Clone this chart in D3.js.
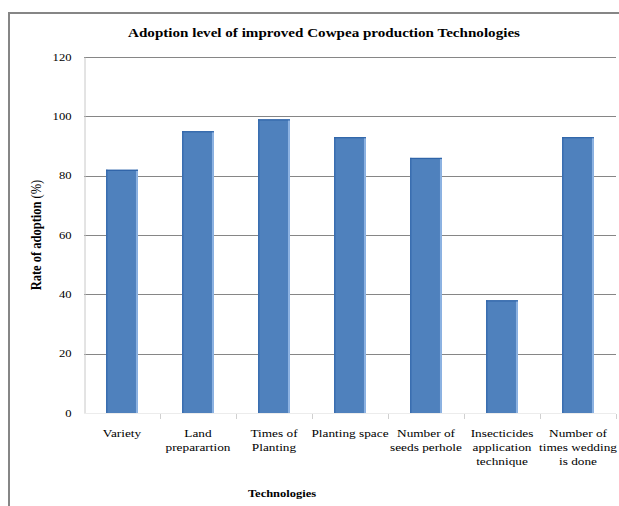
<!DOCTYPE html>
<html><head><meta charset="utf-8">
<script src="https://cdn.jsdelivr.net/npm/d3@7"></script>
<style>
html,body{margin:0;padding:0;background:#fff;}
svg{display:block;}
</style></head>
<body>
<svg id="c" width="619" height="506"></svg>
<script>
const title = "Adoption level of improved Cowpea production Technologies";
const categories = ["Variety","Land preparartion","Times of Planting","Planting space","Number of seeds perhole","Insecticides application technique","Number of times wedding is done"];
const categoryLines = [["Variety"],["Land","preparartion"],["Times of","Planting"],["Planting space"],["Number of","seeds perhole"],["Insecticides","application","technique"],["Number of","times wedding","is done"]];
const values = [82, 95, 99, 93, 86, 38, 93];
const yTicks = [0, 20, 40, 60, 80, 100, 120];
const xTitle = "Technologies";
const yTitleBold = "Rate of adoption";
const yTitleNormal = " (%)";

const FONT = "'Liberation Serif', 'DejaVu Serif', serif";
const SX = 1.33; // horizontal stretch of the reference's text
const svg = d3.select("#c").attr("font-family", FONT);

// outer chart border
svg.append("rect").attr("x",9).attr("y",13).attr("width",640).attr("height",520)
  .attr("fill","none").attr("stroke","#868686").attr("stroke-width",2);

const x = d3.scaleBand().domain(categories).range([84,616]).paddingInner(0.58).paddingOuter(0.29);
const y = d3.scaleLinear().domain([0,120]).range([413,57]);

// gridlines
svg.append("g").selectAll("line").data(yTicks.filter(d=>d>0)).join("line")
  .attr("x1",84).attr("x2",616).attr("y1",d=>Math.round(y(d))+0.5).attr("y2",d=>Math.round(y(d))+0.5)
  .attr("stroke","#868686").attr("stroke-width",1);

// y axis
const yAxis = d3.axisLeft(y).tickValues(yTicks).tickSize(0).tickPadding(13);
const gy = svg.append("g").attr("transform","translate(84.5,0)").call(yAxis);
gy.attr("font-family", FONT).attr("font-size", 9.5);
gy.select(".domain").attr("stroke","#c8c8c8");
gy.selectAll(".tick text").attr("fill","#000").attr("x",0)
  .attr("transform",`translate(-13,0) scale(${SX},1)`);

// x baseline + category boundary ticks
svg.append("line").attr("x1",84).attr("x2",616).attr("y1",413.5).attr("y2",413.5).attr("stroke","#ececec");
const step = x.step();
const bounds = d3.range(1, categories.length+1).map(i => x.range()[0] + i*step);
svg.append("g").selectAll("line").data(bounds).join("line")
  .attr("x1",d=>Math.round(d)+0.5).attr("x2",d=>Math.round(d)+0.5).attr("y1",414).attr("y2",419)
  .attr("stroke","#d0d0d0");

// bars
const bars = svg.append("g").selectAll("g").data(values).join("g");
bars.append("rect")
  .attr("x",(d,i)=>x(categories[i])).attr("y",d=>y(d))
  .attr("width",x.bandwidth()).attr("height",d=>y(0)-y(d))
  .attr("fill","#4f81bd");
bars.append("rect")
  .attr("x",(d,i)=>x(categories[i])+x.bandwidth()-2).attr("y",d=>y(d))
  .attr("width",2).attr("height",d=>y(0)-y(d))
  .attr("fill","#8db3e2");
bars.append("rect")
  .attr("x",(d,i)=>x(categories[i])).attr("y",d=>y(d))
  .attr("width",1.5).attr("height",d=>y(0)-y(d))
  .attr("fill","#3a6db0");
bars.append("rect")
  .attr("x",(d,i)=>x(categories[i])).attr("y",d=>y(d))
  .attr("width",x.bandwidth()).attr("height",1.2)
  .attr("fill","#2f64a8");

// x labels
const xl = svg.append("g").selectAll("g").data(categoryLines).join("g")
  .attr("transform",(d,i)=>`translate(${x(categories[i])+x.bandwidth()/2},437) scale(${SX},1)`);
xl.append("text").attr("text-anchor","middle").attr("font-size",10)
  .selectAll("tspan").data(d=>d).join("tspan")
  .attr("x",0).attr("dy",(d,i)=>i===0?0:14).text(d=>d);

// title
svg.append("g").attr("transform",`translate(324,37) scale(1.26,1)`)
  .append("text").attr("text-anchor","middle")
  .attr("font-size",12).attr("font-weight","bold").text(title);

// axis titles
svg.append("g").attr("transform",`translate(282,497) scale(1.25,1)`)
  .append("text").attr("text-anchor","middle")
  .attr("font-size",10).attr("font-weight","bold").text(xTitle);
const yt = svg.append("g").attr("transform",`translate(41,235) scale(1.25,1) rotate(-90)`)
  .append("text").attr("text-anchor","middle").attr("font-size",12.5);
yt.append("tspan").attr("font-weight","bold").text(yTitleBold);
yt.append("tspan").text(yTitleNormal);
</script>
</body></html>
